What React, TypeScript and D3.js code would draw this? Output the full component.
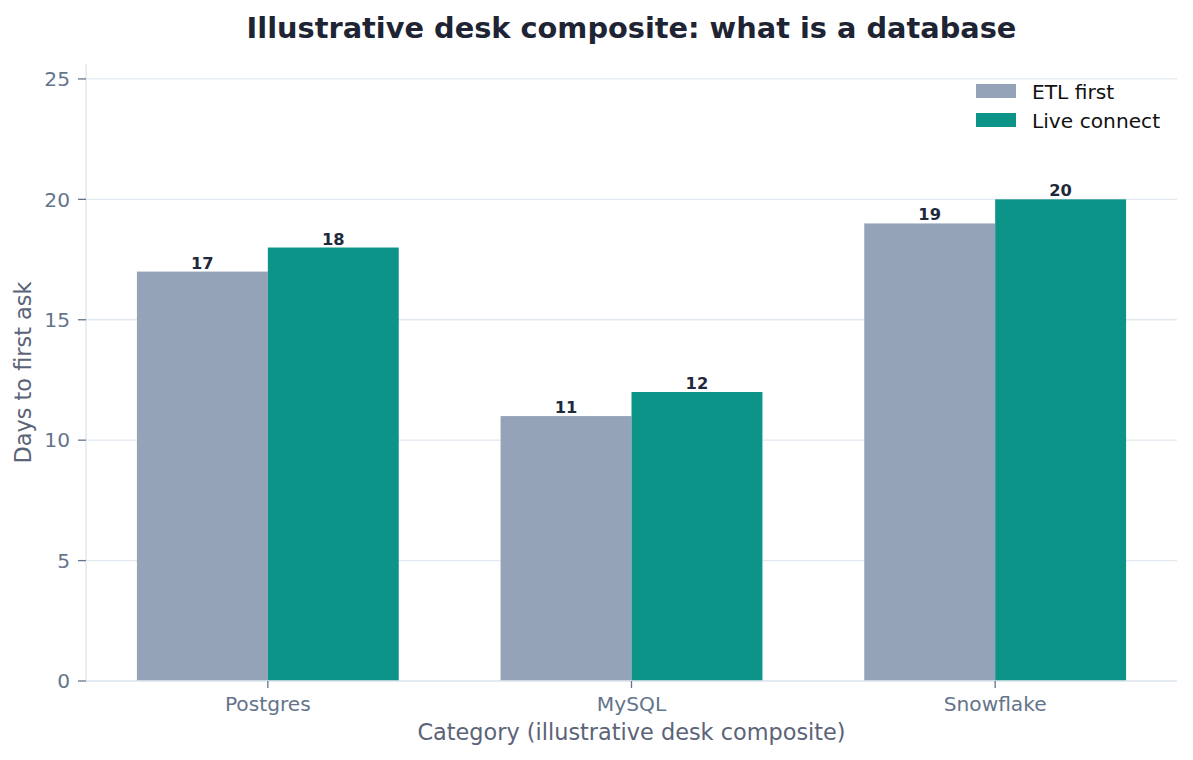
import * as d3 from 'd3';

// chart data
const categories = ['Postgres', 'MySQL', 'Snowflake'];
const seriesNames = ['ETL first', 'Live connect'];
const etlFirst = [17, 11, 19];
const liveConnect = [18, 12, 20];
const yTicks = [0, 5, 10, 15, 20, 25];

const colors = ['#94a3b8', '#0d9488'];
const font = '"DejaVu Sans", sans-serif';

export default function App() {
  const width = 1193;
  const height = 760;
  const marginLeft = 86;
  const marginRight = 16;
  const marginTop = 64;
  const marginBottom = 79;

  const values = [etlFirst, liveConnect];
  const barW = 0.36;

  // x as a linear index scale, like matplotlib's -0.5..n-0.5
  const x = d3.scaleLinear()
    .domain([-0.5, categories.length - 0.5])
    .range([marginLeft, width - marginRight]);

  const y = d3.scaleLinear()
    .domain([0, 25.62])
    .range([height - marginBottom, marginTop]);

  const unit = x(1) - x(0);

  return (
    <svg width={width} height={height}
      style={{ position: 'absolute', left: 0, top: 0, background: '#fff' }}
      fontFamily={font}>
      {/* gridlines */}
      {yTicks.map(t => (
        <line key={'g' + t} x1={marginLeft} x2={width - marginRight}
          y1={y(t)} y2={y(t)} stroke='#e2e8f0' strokeWidth={1.3} />
      ))}

      {/* bars */}
      {values.map((vals, si) => vals.map((v, ci) => {
        const x0 = x(ci + (si === 0 ? -barW : 0));
        return (
          <g key={`b${si}-${ci}`}>
            <rect x={x0} y={y(v)} width={barW * unit} height={y(0) - y(v)} fill={colors[si]} />
            <text x={x0 + barW * unit / 2} y={y(v) - 3} textAnchor='middle'
              fontSize={16.3} fontWeight='bold' fill='#1e293b'>{v}</text>
          </g>
        );
      }))}

      {/* spines */}
      <line x1={marginLeft} x2={marginLeft} y1={marginTop} y2={y(0)} stroke='#e2e8f0' strokeWidth={1.5} />
      <line x1={marginLeft} x2={width - marginRight} y1={y(0)} y2={y(0)} stroke='#e2e8f0' strokeWidth={1.5} />

      {/* y axis */}
      {yTicks.map(t => (
        <g key={'y' + t}>
          <line x1={marginLeft - 8} x2={marginLeft} y1={y(t)} y2={y(t)} stroke='#64748b' strokeWidth={1.3} />
          <text x={marginLeft - 16} y={y(t)} dy='0.36em' textAnchor='end' fontSize={20.2} fill='#64748b'>{t}</text>
        </g>
      ))}

      {/* x axis */}
      {categories.map((c, i) => (
        <g key={'x' + c}>
          <line x1={x(i)} x2={x(i)} y1={y(0)} y2={y(0) + 7} stroke='#64748b' strokeWidth={1.3} />
          <text x={x(i)} y={711} textAnchor='middle' fontSize={20.2} fill='#64748b'>{c}</text>
        </g>
      ))}

      {/* axis labels */}
      <text x={(marginLeft + width - marginRight) / 2} y={740} textAnchor='middle'
        fontSize={22.4} fill='#5b6478'>Category (illustrative desk composite)</text>
      <text transform={`translate(31,${(marginTop + y(0)) / 2}) rotate(-90)`} textAnchor='middle'
        fontSize={22.4} fill='#5b6478'>Days to first ask</text>

      {/* title */}
      <text x={(marginLeft + width - marginRight) / 2} y={38} textAnchor='middle'
        fontSize={28.8} fontWeight='bold' fill='#1e2433'>Illustrative desk composite: what is a database</text>

      {/* legend */}
      {seriesNames.map((n, i) => (
        <g key={'l' + n} transform={`translate(976,${84 + i * 29})`}>
          <rect width={40} height={14} fill={colors[i]} />
          <text x={56} y={14.5} fontSize={20.2} fill='#111'>{n}</text>
        </g>
      ))}
    </svg>
  );
}
